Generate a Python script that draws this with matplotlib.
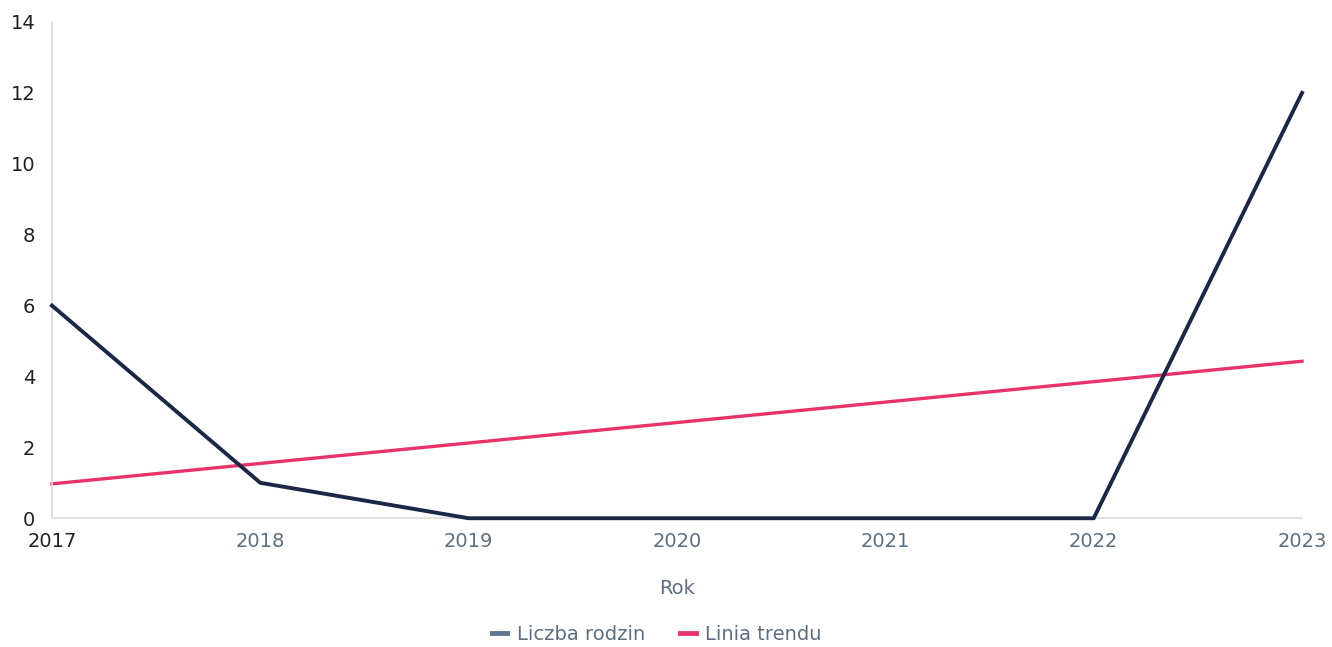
import matplotlib.pyplot as plt
from matplotlib.lines import Line2D

# Data
years = [2017, 2018, 2019, 2020, 2021, 2022, 2023]
families = [6, 1, 0, 0, 0, 0, 12]
trend_years = [2017, 2023]
trend_values = [0.97, 4.43]

navy = '#1a2746'
pink = '#e8336a'
grey_text = '#5d6e80'

fig = plt.figure(figsize=(13.32, 6.47), dpi=100)
ax = fig.add_axes([0.039, 0.199, 0.9385, 0.767])

ax.plot(years, families, color=navy, lw=2.8, solid_joinstyle='miter',
        zorder=3, clip_on=False)
ax.plot(trend_years, trend_values, color=pink, lw=2.4, zorder=2, clip_on=False)

ax.set_xlim(2017, 2023)
ax.set_ylim(0, 14)
ax.set_yticks(range(0, 15, 2))
ax.set_xticks(years)

for s in ['top', 'right']:
    ax.spines[s].set_visible(False)
for s in ['left', 'bottom']:
    ax.spines[s].set_color('#dcdcdc')
    ax.spines[s].set_linewidth(1.2)

ax.tick_params(axis='y', length=0, pad=12, labelsize=14, labelcolor='#222222')
ax.tick_params(axis='x', length=0, pad=10, labelsize=14, labelcolor=grey_text)
ax.get_xticklabels()[0].set_color('#222222')

ax.set_xlabel('Rok', fontsize=14, color=grey_text, labelpad=20)

handles = [Line2D([], [], color='#5d7590', lw=3.5),
           Line2D([], [], color=pink, lw=3.5)]
fig.legend(handles, ['Liczba rodzin', 'Linia trendu'], loc='center',
           bbox_to_anchor=(0.493, 0.019), ncol=2, frameon=False,
           fontsize=14, labelcolor=grey_text, handlelength=0.8,
           handletextpad=0.5, columnspacing=1.8)

fig.savefig('out.png', dpi=100)
